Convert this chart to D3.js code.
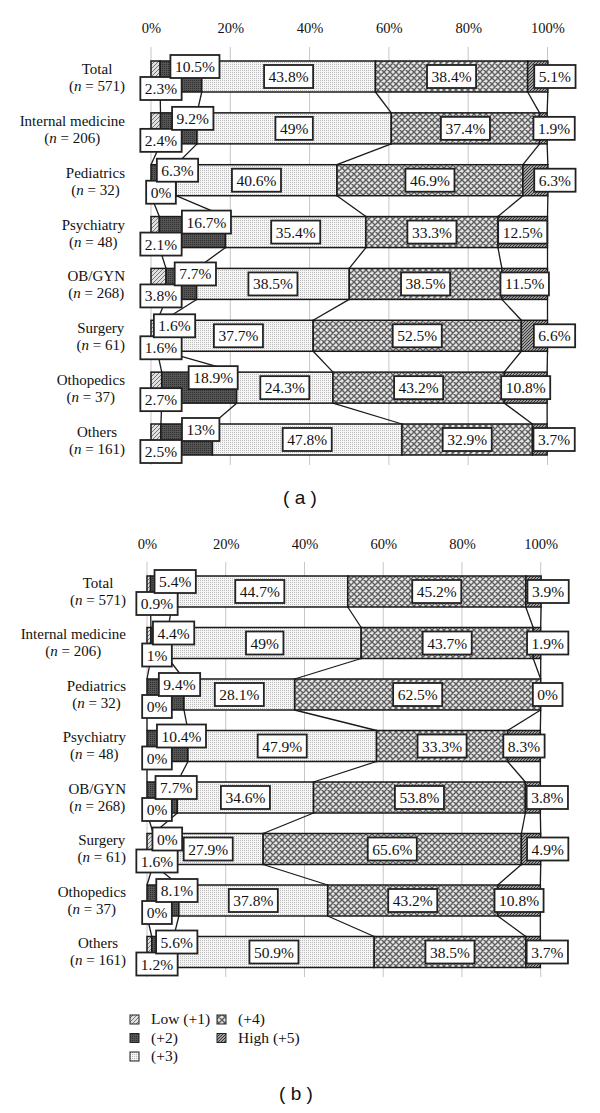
<!DOCTYPE html>
<html><head><meta charset="utf-8">
<script src="https://cdn.jsdelivr.net/npm/d3@7"></script>
<style>body{margin:0;background:#fff}svg{display:block}</style>
</head><body><svg id="c" width="600" height="1113"></svg>
<script>
const categories = ["Total","Internal medicine","Pediatrics","Psychiatry","OB/GYN","Surgery","Othopedics","Others"];
const counts = [571,206,32,48,268,61,37,161];
const seriesNames = ["Low (+1)","(+2)","(+3)","(+4)","High (+5)"];
const tickValues = [0,20,40,60,80,100];

// panel (a)
const a_low  = [2.3,2.4,0,2.1,3.8,1.6,2.7,2.5];
const a_p2   = [10.5,9.2,6.3,16.7,7.7,1.6,18.9,13];
const a_p3   = [43.8,49,40.6,35.4,38.5,37.7,24.3,47.8];
const a_p4   = [38.4,37.4,46.9,33.3,38.5,52.5,43.2,32.9];
const a_high = [5.1,1.9,6.3,12.5,11.5,6.6,10.8,3.7];
// panel (b)
const b_low  = [0.9,1,0,0,0,1.6,0,1.2];
const b_p2   = [5.4,4.4,9.4,10.4,7.7,0,8.1,5.6];
const b_p3   = [44.7,49,28.1,47.9,34.6,27.9,37.8,50.9];
const b_p4   = [45.2,43.7,62.5,33.3,53.8,65.6,43.2,38.5];
const b_high = [3.9,1.9,0,8.3,3.8,4.9,10.8,3.7];

const svg = d3.select("#c");
const defs = svg.append("defs");
const SERIF = "'Liberation Serif','Times New Roman',serif";

function pat(id, w, h, build){
  const p = defs.append("pattern").attr("id",id).attr("patternUnits","userSpaceOnUse").attr("width",w).attr("height",h);
  build(p);
}
pat("p0",4,4,p=>{
  p.append("rect").attr("width",4).attr("height",4).attr("fill","#e0e0e0");
  p.append("path").attr("d","M-1,1 L1,-1 M0,4 L4,0 M3,5 L5,3").attr("stroke","#777").attr("stroke-width",1);
});
pat("p1",2,2,p=>{
  p.append("rect").attr("width",2).attr("height",2).attr("fill","#555");
  p.append("rect").attr("width",1).attr("height",1).attr("fill","#2e2e2e");
});
pat("p2",2,2,p=>{
  p.append("rect").attr("width",2).attr("height",2).attr("fill","#f5f5f5");
  p.append("rect").attr("width",1).attr("height",1).attr("fill","#bcbcbc");
});
pat("p3",6,6,p=>{
  p.append("rect").attr("width",6).attr("height",6).attr("fill","#e4e4e4");
  p.append("path").attr("d","M0,0 L6,6 M6,0 L0,6 M-3,3 L0,0 M3,9 L9,3").attr("stroke","#5e5e5e").attr("stroke-width",1.4);
});
pat("p4",3,3,p=>{
  p.append("rect").attr("width",3).attr("height",3).attr("fill","#a0a0a0");
  p.append("path").attr("d","M-1,1 L1,-1 M0,3 L3,0 M2,4 L4,2").attr("stroke","#2a2a2a").attr("stroke-width",0.9);
});

const keys = ["s0","s1","s2","s3","s4"];

function drawPanel(cfg){
  const g = svg.append("g");
  const x = d3.scaleLinear().domain([0,100]).range([cfg.x0, cfg.x1]);
  const y = d3.scalePoint().domain(categories).range([cfg.yFirst, cfg.yLast]);
  const h = 31;
  const rows = categories.map((c,i)=>{
    const r = {cat:c, n:counts[i]};
    cfg.vals.forEach((arr,k)=> r[keys[k]] = arr[i]);
    return r;
  });
  const stacked = d3.stack().keys(keys)(rows);

  g.selectAll("line.grid").data(tickValues).join("line")
    .attr("x1",d=>x(d)).attr("x2",d=>x(d))
    .attr("y1",cfg.gridTop).attr("y2",cfg.gridBot)
    .attr("stroke","#c6c6c6").attr("stroke-width",1);

  const ax = g.append("g").attr("transform",`translate(0,${cfg.tickY})`)
    .call(d3.axisTop(x).tickValues(tickValues).tickFormat(d=>d+"%").tickSize(0).tickPadding(0));
  ax.select(".domain").remove();
  ax.selectAll("text").attr("font-family",SERIF).attr("font-size",14.5).attr("fill","#111");

  rows.forEach(r=>{
    const cy = y(r.cat);
    const t1 = g.append("text").attr("font-family",SERIF).attr("font-size",15).attr("fill","#111")
      .attr("text-anchor","middle").attr("y",cy+cfg.l1dy).text(r.cat);
    const t2 = g.append("text").attr("font-family",SERIF).attr("font-size",15).attr("fill","#111")
      .attr("text-anchor","middle").attr("y",cy+cfg.l2dy);
    t2.append("tspan").text("(");
    t2.append("tspan").attr("font-style","italic").text("n");
    t2.append("tspan").text(" = " + r.n + ")");
    const w = Math.max(t1.node().getComputedTextLength(), t2.node().getComputedTextLength());
    const cx = cfg.labelRight - w/2;
    t1.attr("x",cx); t2.attr("x",cx);
  });

  stacked.forEach(layer=>{
    for(let i=0;i<layer.length-1;i++){
      g.append("line")
        .attr("x1",x(layer[i][1])).attr("y1",y(categories[i])+h/2)
        .attr("x2",x(layer[i+1][1])).attr("y2",y(categories[i+1])-h/2)
        .attr("stroke","#1a1a1a").attr("stroke-width",1.3);
    }
  });

  stacked.forEach((layer,k)=>{
    g.selectAll(null).data(layer.filter(d=>d[1]-d[0]>0)).join("rect")
      .attr("x",d=>x(d[0])).attr("width",d=>x(d[1])-x(d[0]))
      .attr("y",d=>y(d.data.cat)-h/2).attr("height",h)
      .attr("fill",`url(#p${k})`).attr("stroke","#1a1a1a").attr("stroke-width",1.5);
  });

  stacked.forEach((layer,k)=>{
    layer.forEach(d=>{
      const val = cfg.vals[k][categories.indexOf(d.data.cat)];
      const yc = y(d.data.cat);
      const segC = (x(d[0])+x(d[1]))/2;
      let cx, cy = yc;
      if(k===0){ cx = x(0)+10; cy = yc+12; }
      else if(k===1){ cx = segC+14; cy = yc-10; }
      else if(k===4){ cx = val>=8 ? segC : x(d[1])+7; }
      else { cx = segC; }
      const lg = g.append("g");
      const rect = lg.append("rect");
      const t = lg.append("text").attr("font-family",SERIF).attr("font-size",15.5).attr("fill","#111")
        .attr("text-anchor","middle").attr("x",cx).attr("y",cy+5.5).text(val+"%");
      const tw = t.node().getComputedTextLength();
      const bw = tw+9, bh = 23;
      rect.attr("x",cx-bw/2).attr("y",cy-bh/2).attr("width",bw).attr("height",bh)
        .attr("fill","#fff").attr("stroke","#222").attr("stroke-width",1.8);
    });
  });

  svg.append("text").attr("x",cfg.tagX).attr("y",cfg.tagY).attr("text-anchor","middle")
    .attr("font-family","'Liberation Sans',Arial,sans-serif").attr("font-size",19).attr("fill","#111")
    .text(cfg.tag);
}

drawPanel({vals:[a_low,a_p2,a_p3,a_p4,a_high], x0:151, x1:547.5, yFirst:76.5, yLast:439.5,
  tickY:33, gridTop:47, gridBot:465, labelRight:125, l1dy:-2.5, l2dy:14.5, tag:"( a )", tagX:300, tagY:504});
drawPanel({vals:[b_low,b_p2,b_p3,b_p4,b_high], x0:147, x1:540.7, yFirst:591.5, yLast:952,
  tickY:549, gridTop:562, gridBot:977, labelRight:126, l1dy:-4, l2dy:13, tag:"( b )", tagX:296, tagY:1100});

const legendPos = [[130,1015],[130,1033.5],[130,1052],[217,1015],[217,1033.5]];
const lgd = svg.append("g");
seriesNames.forEach((name,k)=>{
  const [lx,ly] = legendPos[k];
  lgd.append("rect").attr("x",lx).attr("y",ly).attr("width",9).attr("height",9)
    .attr("fill",`url(#p${k})`).attr("stroke","#222").attr("stroke-width",1);
  lgd.append("text").attr("x",lx+21).attr("y",ly+9).attr("font-family",SERIF).attr("font-size",15.5).attr("fill","#111").text(name);
});
</script></body></html>
